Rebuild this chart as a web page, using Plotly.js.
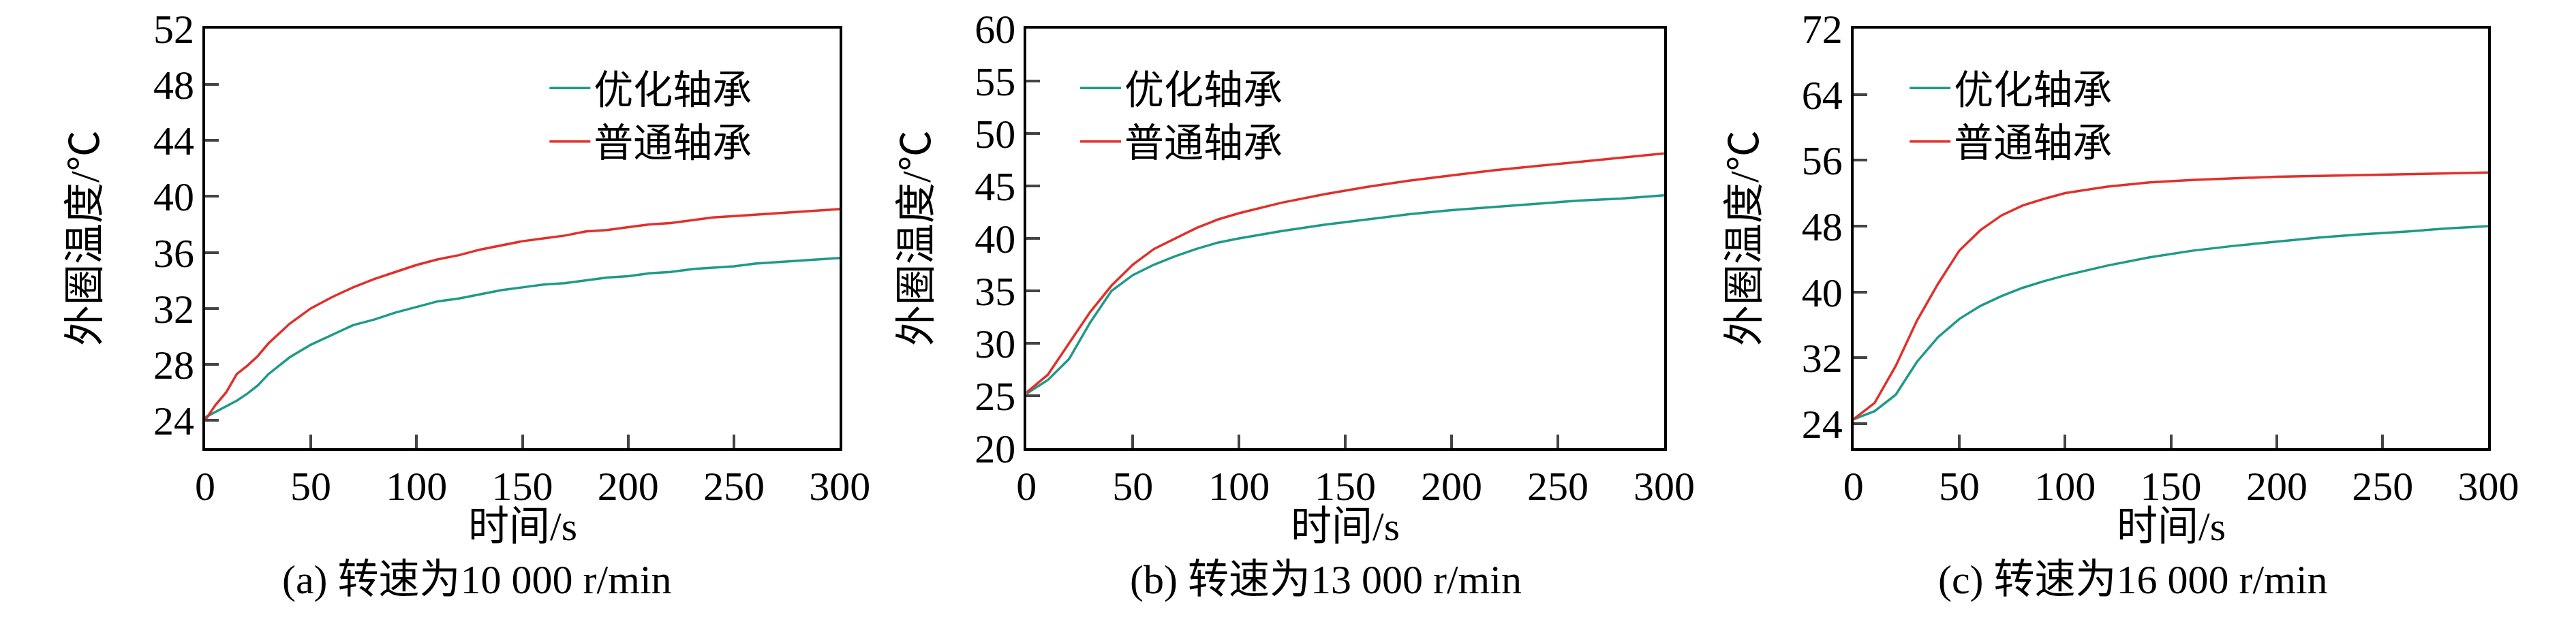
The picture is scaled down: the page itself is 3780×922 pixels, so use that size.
<!DOCTYPE html>
<html>
<head>
<meta charset="utf-8">
<script src="https://cdn.plot.ly/plotly-3.0.1.min.js"></script>
<style>body{margin:0;background:#fff}#chart{width:3780px;height:922px}</style>
</head>
<body>
<div id="chart"></div>
<script>
// 数据
const tA = [0, 5, 10, 15, 20, 25, 30, 40, 50, 60, 70, 80, 90, 100, 110, 120, 130, 140, 150, 160, 170, 180, 190, 200, 210, 220, 230, 240, 250, 260, 270, 280, 290, 300];
const optA = [24.2, 24.6, 25.0, 25.4, 25.9, 26.5, 27.3, 28.5, 29.4, 30.1, 30.8, 31.2, 31.7, 32.1, 32.5, 32.7, 33.0, 33.3, 33.5, 33.7, 33.8, 34.0, 34.2, 34.3, 34.5, 34.6, 34.8, 34.9, 35.0, 35.2, 35.3, 35.4, 35.5, 35.6];
const norA = [24.0, 25.1, 26.0, 27.3, 27.9, 28.6, 29.5, 30.9, 32.0, 32.8, 33.5, 34.1, 34.6, 35.1, 35.5, 35.8, 36.2, 36.5, 36.8, 37.0, 37.2, 37.5, 37.6, 37.8, 38.0, 38.1, 38.3, 38.5, 38.6, 38.7, 38.8, 38.9, 39.0, 39.1];

const tB = [0, 10, 20, 30, 40, 50, 60, 70, 80, 90, 100, 120, 140, 160, 180, 200, 220, 240, 260, 280, 300];
const optB = [25.2, 26.5, 28.5, 32.0, 35.0, 36.5, 37.5, 38.3, 39.0, 39.6, 40.0, 40.7, 41.3, 41.8, 42.3, 42.7, 43.0, 43.3, 43.6, 43.8, 44.1];
const norB = [25.3, 27.0, 30.0, 33.0, 35.5, 37.5, 39.0, 40.0, 41.0, 41.8, 42.4, 43.4, 44.2, 44.9, 45.5, 46.0, 46.5, 46.9, 47.3, 47.7, 48.1];

const tC = [0, 10, 20, 30, 40, 50, 60, 70, 80, 90, 100, 120, 140, 160, 180, 200, 220, 240, 260, 280, 300];
const optC = [24.5, 25.5, 27.5, 31.5, 34.5, 36.7, 38.3, 39.5, 40.5, 41.3, 42.0, 43.2, 44.2, 45.0, 45.6, 46.1, 46.6, 47.0, 47.3, 47.7, 48.0];
const norC = [24.5, 26.5, 31.0, 36.5, 41.0, 45.0, 47.5, 49.3, 50.5, 51.3, 52.0, 52.8, 53.3, 53.6, 53.8, 54.0, 54.1, 54.2, 54.3, 54.4, 54.5];

const names = ["优化轴承", "普通轴承"];
const captions = ["(a) 转速为10 000 r/min", "(b) 转速为13 000 r/min", "(c) 转速为16 000 r/min"];
const yRanges = [[22, 52], [20, 60], [21, 72]];
const yTicks = [[24, 28, 32, 36, 40, 44, 48, 52], [20, 25, 30, 35, 40, 45, 50, 55, 60], [24, 32, 40, 48, 56, 64, 72]];

const TEAL = "#1f9a88";
const RED = "#e0302b";
const FONT = "Liberation Serif, Noto Sans CJK SC";

const panels = [[tA, optA, norA], [tB, optB, norB], [tC, optC, norC]];
const domains = [[0.0796, 0.326], [0.3985, 0.646], [0.7195, 0.966]];
const legendX = [0.212, 0.418, 0.740];
const yTitleX = [125, 1345, 2560];
const captionX = [700, 1945, 3130];

let traces = [];
let layout = {
  width: 3780, height: 922,
  margin: {l: 0, r: 0, t: 42, b: 264},
  paper_bgcolor: "#fff", plot_bgcolor: "#fff",
  font: {family: FONT, size: 56, color: "#000"},
  showlegend: true,
  annotations: [],
};

panels.forEach((p, i) => {
  const s = i === 0 ? "" : String(i + 1);
  const lg = "legend" + s;
  traces.push({x: p[0], y: p[1], xaxis: "x" + s, yaxis: "y" + s, mode: "lines",
    line: {color: TEAL, width: 3.5}, name: names[0], legend: lg});
  traces.push({x: p[0], y: p[2], xaxis: "x" + s, yaxis: "y" + s, mode: "lines",
    line: {color: RED, width: 3.5}, name: names[1], legend: lg});

  layout["xaxis" + s] = {
    domain: domains[i], anchor: "y" + s, range: [0, 300], tickvals: [0, 50, 100, 150, 200, 250, 300],
    ticks: "inside", ticklen: 20, tickwidth: 4, linewidth: 4, linecolor: "#000", mirror: true,
    showgrid: false, zeroline: false, tickfont: {size: 60, family: FONT},
  };
  layout["yaxis" + s] = {
    anchor: "x" + s, range: yRanges[i], tickvals: yTicks[i],
    ticks: "inside", ticklen: 20, tickwidth: 4, linewidth: 4, linecolor: "#000", mirror: true,
    showgrid: false, zeroline: false, tickfont: {size: 60, family: FONT},
  };
  layout[lg] = {
    x: legendX[i], y: 0.93, xanchor: "left", yanchor: "top", bgcolor: "rgba(0,0,0,0)",
    font: {size: 58, family: FONT}, tracegroupgap: 0, itemwidth: 60,
  };
  const mid = (domains[i][0] + domains[i][1]) / 2;
  layout.annotations.push({text: "时间/s", xref: "paper", yref: "paper", x: mid, y: 0, yshift: -150,
    xanchor: "center", showarrow: false, font: {size: 60, family: FONT}});
  layout.annotations.push({text: captions[i], xref: "paper", yref: "paper", x: captionX[i] / 3780, y: 0,
    yshift: -228, xanchor: "center", showarrow: false, font: {size: 60, family: FONT}});
  layout.annotations.push({text: "外圈温度/℃", xref: "paper", yref: "paper", x: yTitleX[i] / 3780, y: 0.5,
    xanchor: "center", textangle: -90, showarrow: false, font: {size: 60, family: FONT}});
});

Plotly.newPlot("chart", traces, layout, {staticPlot: true});
</script>
</body>
</html>
